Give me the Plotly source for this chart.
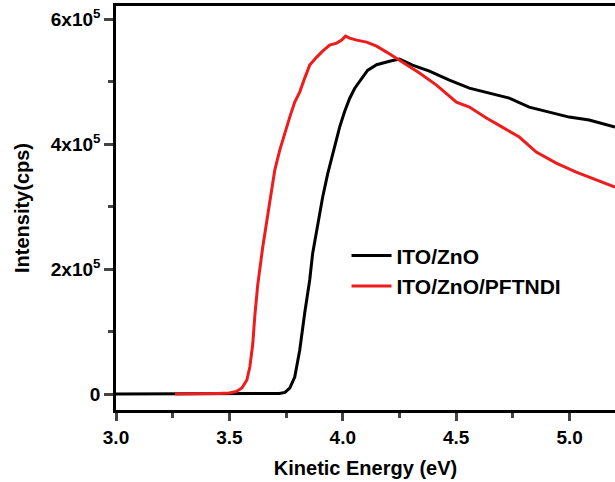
import plotly.graph_objects as go

# Black: ITO/ZnO
x_zno = [3.00, 3.20, 3.40, 3.60, 3.70, 3.72, 3.745, 3.766, 3.788, 3.810, 3.832, 3.854, 3.867, 3.889,
         3.911, 3.933, 3.964, 3.986, 4.008, 4.030, 4.052, 4.083, 4.109, 4.149, 4.175, 4.21, 4.250,
         4.307, 4.382, 4.470, 4.558, 4.646, 4.734, 4.822, 4.910, 4.998, 5.086, 5.20]
y_zno = [0, 0, 0, 0, 0, 800, 2500, 9600, 27200, 70000, 129600, 182400, 225000, 272000,
         315000, 352000, 398000, 427200, 452000, 473000, 489000, 505000, 518000, 527000, 530000, 533000, 536000,
         526400, 516800, 502400, 489600, 481600, 473600, 459200, 451200, 443200, 438400, 427200]

# Red: ITO/ZnO/PFTNDI
x_pf = [3.26, 3.35, 3.45, 3.50, 3.53, 3.555, 3.577, 3.590, 3.603, 3.612, 3.625, 3.647, 3.669, 3.691,
        3.700, 3.722, 3.744, 3.766, 3.788, 3.810, 3.832, 3.854, 3.885, 3.911, 3.942, 3.973, 3.995,
        4.012, 4.030, 4.061, 4.105, 4.149, 4.193, 4.263, 4.338, 4.413, 4.501, 4.558, 4.633, 4.703,
        4.778, 4.853, 4.941, 5.029, 5.117, 5.20]
y_pf = [0, 0, 1000, 1500, 4000, 9600, 22400, 43200, 80000, 125000, 175000, 235200, 289600, 338000,
        358400, 390400, 417600, 443200, 467200, 483200, 505600, 526400, 539200, 548800, 558400, 561600, 566400,
        572800, 569600, 566400, 563200, 556800, 547200, 531200, 513600, 494400, 467200, 459200, 441600, 427200,
        411200, 387200, 369600, 355200, 342400, 331200]

y_tickvals = [0, 200000, 400000, 600000]
y_ticktext = ["<b>0</b>", "<b>2x10<sup>5</sup></b>", "<b>4x10<sup>5</sup></b>", "<b>6x10<sup>5</sup></b>"]
y_minor = [100000, 300000, 500000]

fig = go.Figure()
fig.add_trace(go.Scatter(x=x_zno, y=y_zno, mode="lines", name="ITO/ZnO",
                         line=dict(color="black", width=3)))
fig.add_trace(go.Scatter(x=x_pf, y=y_pf, mode="lines", name="ITO/ZnO/PFTNDI",
                         line=dict(color="#ee1c1c", width=3)))

font_family = "Liberation Sans, Arial, sans-serif"
fig.update_layout(
    width=615, height=482,
    margin=dict(l=116, r=0, t=6, b=72),
    paper_bgcolor="white", plot_bgcolor="white",
    font=dict(family=font_family, color="black", size=18),
    showlegend=True,
    legend=dict(x=0.462, y=0.432, xanchor="left", yanchor="top",
                bgcolor="rgba(0,0,0,0)", borderwidth=0,
                font=dict(size=21, weight="bold"), itemwidth=40, tracegroupgap=0),
    xaxis=dict(range=[3.0, 5.2], tick0=3.0, dtick=0.5, tickformat=".1f",
               showgrid=False, zeroline=False, showline=True, linewidth=2.5, linecolor="black",
               mirror=True, ticks="outside", ticklen=8, tickwidth=2.5,
               tickfont=dict(size=19, weight="bold"),
               minor=dict(ticks="outside", ticklen=5, tickwidth=2.5, dtick=0.25, tick0=3.0),
               title=dict(text="<b>Kinetic Energy (eV)</b>", font=dict(size=20), standoff=15)),
    yaxis=dict(range=[-25600, 621000], tickmode="array", tickvals=y_tickvals, ticktext=y_ticktext,
               showgrid=False, zeroline=False, showline=True, linewidth=2.5, linecolor="black",
               ticks="outside", ticklen=9, tickwidth=2.5,
               tickfont=dict(size=19),
               minor=dict(ticks="outside", ticklen=5, tickwidth=2.5, tickmode="array", tickvals=y_minor),
               title=dict(text="<b>Intensity(cps)</b>", font=dict(size=20), standoff=16)),
)

fig.write_html("out.html")
